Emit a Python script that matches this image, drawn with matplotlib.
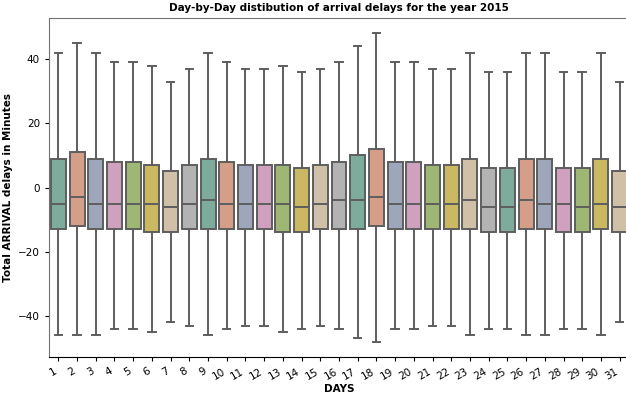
import matplotlib
matplotlib.use("Agg")
import matplotlib.pyplot as plt
import seaborn as sns
import numpy as np

days = list(range(1, 32))
q3 = [9, 11, 9, 8, 8, 7, 5, 7, 9, 8, 7, 7, 7, 6, 7, 8,
      10, 12, 8, 8, 7, 7, 9, 6, 6, 9, 9, 6, 6, 9, 5]
med = [-5, -3, -5, -5, -5, -5, -6, -5, -4, -5, -5, -5, -5, -6, -5, -4,
       -4, -3, -5, -5, -5, -5, -4, -6, -6, -4, -5, -5, -6, -5, -6]
q1 = [-13, -12, -13, -13, -13, -14, -14, -13, -13, -13, -13, -13, -14, -14, -13, -13,
      -13, -12, -13, -13, -13, -13, -13, -14, -14, -13, -13, -14, -14, -13, -14]
whi_hi = [42, 45, 42, 39, 39, 38, 33, 37, 42, 39, 37, 37, 38, 36, 37, 39,
          44, 48, 39, 39, 37, 37, 42, 36, 36, 42, 42, 36, 36, 42, 33]
whi_lo = [-46, -46, -46, -44, -44, -45, -42, -43, -46, -44, -43, -43, -45, -44, -43, -44,
          -47, -48, -44, -44, -43, -43, -46, -44, -44, -46, -46, -44, -44, -46, -42]

stats = []
for i in range(len(days)):
    stats.append({"med": med[i], "q1": q1[i], "q3": q3[i],
                  "whislo": whi_lo[i], "whishi": whi_hi[i], "fliers": []})

# Set2, washed out the way the saved chart looks
pal = [sns.desaturate(c, 0.5) for c in sns.color_palette("Set2", 8)]
line_col = "#5e5e5e"

fig = plt.figure(figsize=(6.26, 3.94), dpi=100)
ax = fig.add_axes([49 / 626, 37 / 394, 580 / 626, 339 / 394])

pos = np.arange(len(days))
bp = ax.bxp(stats, positions=pos, widths=0.8, patch_artist=True, showfliers=False,
            boxprops=dict(edgecolor=line_col, linewidth=1.4),
            medianprops=dict(color=line_col, linewidth=1.4),
            whiskerprops=dict(color=line_col, linewidth=1.4),
            capprops=dict(color=line_col, linewidth=1.4),
            capwidths=0.4)
for i, box in enumerate(bp["boxes"]):
    box.set_facecolor(pal[i % 8])

ax.set_xlim(-0.5, len(days) - 0.5)
ax.set_ylim(-52.8, 52.8)
ax.set_yticks([-40, -20, 0, 20, 40])
ax.set_xticks(pos)
ax.set_xticklabels([str(d) for d in days], rotation=30, ha="right", fontsize=7.5)
ax.tick_params(axis="y", labelsize=7.5)
ax.tick_params(length=3)

ax.spines["right"].set_visible(False)
ax.spines["top"].set_color("0.45")
ax.spines["left"].set_color("0.45")

ax.set_title("Day-by-Day distibution of arrival delays for the year 2015",
             fontsize=7.5, fontweight="bold", pad=5)
ax.set_xlabel("DAYS", fontsize=7.5, fontweight="bold", labelpad=2)
ax.set_ylabel("Total ARRIVAL delays in Minutes", fontsize=7.5, fontweight="bold")

fig.savefig("out.png", dpi=100)
